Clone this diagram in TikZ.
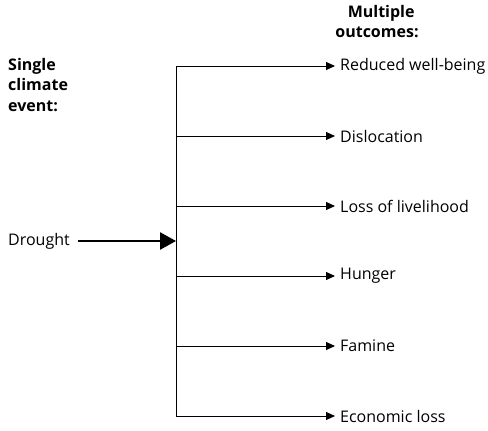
\documentclass[tikz,border=0pt]{standalone}
\usepackage{fontspec}
\setmainfont{Open Sans}
\usetikzlibrary{arrows.meta}
\begin{document}
\begin{tikzpicture}[x=1pt,y=-1pt,
  lbl/.style={anchor=west,inner sep=0pt,font=\fontsize{16}{18}\selectfont},
  hdr/.style={inner sep=0pt,font=\bfseries\fontsize{16}{20.5}\selectfont,align=left},
  branch/.style={line width=0.9pt,-{Triangle[length=9pt,width=8pt]}},
  main/.style={line width=2.5pt,-{Triangle[length=16pt,width=17pt]}}]
\useasboundingbox (0,0) rectangle (488,431);
\node[hdr,anchor=north west] (single) at (8,58) {Single\\climate\\event:};
\node[hdr,anchor=north,align=center] (multi) at (377,5) {\ \ Multiple\\outcomes:};
\coordinate (top) at (176,66);
\coordinate (bot) at (176,416);
\draw[line width=0.9pt] (top) -- (bot);
\foreach \y/\t/\n in {66/Reduced well-being/o1,136/Dislocation/o2,206/Loss of livelihood/o3,276/Hunger/o4,346/Famine/o5,416/Economic loss/o6}{
  \node[lbl] (\n) at (340,\y) {\t};
  \coordinate (s\n) at (176,\y);
  \draw[branch] (s\n) -- ([xshift=-5pt]\n.west);
}
\node[lbl] (drought) at (8,241) {Drought};
\coordinate (dend) at (176,241);
\draw[main] ([xshift=8pt]drought.east) -- (dend);
\end{tikzpicture}
\end{document}
